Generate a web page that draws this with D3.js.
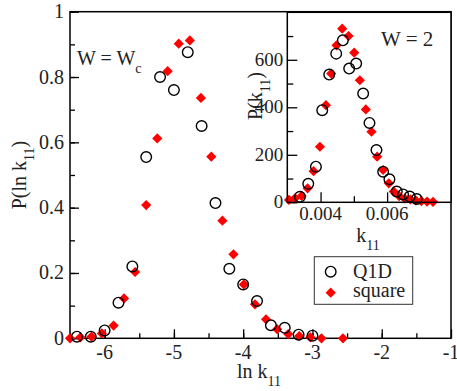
<!DOCTYPE html>
<html><head><meta charset="utf-8">
<script src="https://cdn.jsdelivr.net/npm/d3@7"></script>
<style>
html,body{margin:0;padding:0;background:#fff;}
svg{display:block;}
</style></head>
<body>
<svg id="chart" width="457" height="391"></svg>
<script>
// ---- Main panel data (W = Wc) ----
const mainQ1DX = [-6.4,-6.2,-6.0,-5.8,-5.6,-5.4,-5.2,-5.0,-4.8,-4.6,-4.4,-4.2,-4.0,-3.8,-3.6,-3.4,-3.2,-3.0];
const mainQ1DY = [0.005,0.005,0.024,0.109,0.22,0.555,0.80,0.76,0.876,0.65,0.414,0.213,0.165,0.114,0.04,0.032,0.011,0.008];
const mainSqX = [-6.5,-6.35,-6.19,-6.04,-5.87,-5.72,-5.56,-5.40,-5.24,-5.09,-4.93,-4.77,-4.61,-4.46,-4.30,-4.14,-3.99,-3.83,-3.67,-3.51,-3.35,-3.19,-3.03,-2.87,-2.56];
const mainSqY = [0.0,0.003,0.005,0.015,0.039,0.122,0.203,0.408,0.612,0.818,0.902,0.912,0.736,0.556,0.36,0.257,0.165,0.104,0.058,0.028,0.013,0.007,0.003,0.0,0.0];
const mainXTicks = [-6,-5,-4,-3,-2,-1];
const mainYTicks = [0,0.2,0.4,0.6,0.8,1];
const mainYTickLabels = ["0","0.2","0.4","0.6","0.8","1"];

// ---- Inset data (W = 2) ----
const insQ1DX = [0.00338,0.00363,0.00386,0.00405,0.00426,0.00447,0.00467,0.00486,0.00507,0.00528,0.00547,0.00568,0.00588,0.00607,0.00629,0.00648,0.00668,0.00689];
const insQ1DY = [23,78,150,388,538,626,682,563,584,458,334,220,129,97,45,33,24,14];
const insSqX = [0.00305,0.00323,0.00343,0.00361,0.00379,0.00398,0.00416,0.00432,0.00448,0.00465,0.00484,0.00501,0.00518,0.00536,0.00553,0.0057,0.00588,0.00605,0.0062,0.00636,0.00653,0.0067,0.00686,0.00703,0.0072,0.00738];
const insSqY = [10,17,27,59,131,234,409,542,661,731,700,630,514,391,297,192,136,80,45,26,16,12,8,5,3,2];
const insXTicks = [0.004,0.006];
const insXTickLabels = ["0.004","0.006"];
const insYTicks = [0,200,400,600];

const seriesNames = ["Q1D","square"];

const svg = d3.select("#chart");
const INK = "#000";
const TXT = "#222";
const FONT = "'Times New Roman'";

// scales
const x = d3.scaleLinear().domain([-6.5,-1]).range([70,451]);
const y = d3.scaleLinear().domain([0,1]).range([338.3,11.7]);
const ix = d3.scaleLinear().domain([0.003,0.00792]).range([287.3,451]);
const iy = d3.scaleLinear().domain([0,800]).range([202.3,12.3]);

function styleAxis(g){
  g.select(".domain").remove();
  g.selectAll("line").attr("stroke",INK).attr("stroke-width",1.3);
  g.selectAll("text").remove();
}
function frame(xs,ys){
  svg.append("rect")
    .attr("x",xs.range()[0]).attr("y",ys.range()[1])
    .attr("width",xs.range()[1]-xs.range()[0])
    .attr("height",ys.range()[0]-ys.range()[1])
    .attr("fill","none").attr("stroke",INK).attr("stroke-width",1.5);
}
// plain label: text with one tspan
function label(parent, xx, yy, s, size, anchor){
  const t = parent.append("text").style("font-family",FONT).attr("fill",TXT)
    .attr("font-size",size).attr("text-anchor",anchor||"start")
    .attr("transform",`translate(${xx},${yy})`);
  t.append("tspan").style("font-family",FONT).text(s);
  return t;
}
function subText(parent, xx, yy, base, sub, tail, size, rotate, anchor){
  const t = parent.append("text").style("font-family",FONT).attr("fill",TXT)
    .attr("font-size",size).attr("text-anchor",anchor||"middle");
  if(rotate) t.attr("transform",`translate(${xx},${yy}) rotate(-90)`);
  else t.attr("transform",`translate(${xx},${yy})`);
  t.append("tspan").style("font-family",FONT).text(base);
  t.append("tspan").style("font-family",FONT).attr("font-size",size*0.7).attr("dy",size*0.38).text(sub);
  if(tail) t.append("tspan").style("font-family",FONT).attr("dy",-size*0.38).text(tail);
  return t;
}

// ---------- main panel ----------
svg.append("g").attr("transform",`translate(0,${y.range()[0]})`)
  .call(d3.axisTop(x).tickValues(d3.range(-6.5,-1.01,0.5)).tickSize(5)).call(styleAxis);
svg.append("g").attr("transform",`translate(${x.range()[0]},0)`)
  .call(d3.axisRight(y).tickValues(d3.range(0,1.001,0.1)).tickSize(5)).call(styleAxis);
svg.append("g").attr("transform",`translate(0,${y.range()[0]})`)
  .call(d3.axisTop(x).tickValues(mainXTicks).tickSize(9)).call(styleAxis);
svg.append("g").attr("transform",`translate(${x.range()[0]},0)`)
  .call(d3.axisRight(y).tickValues(mainYTicks).tickSize(9)).call(styleAxis);
frame(x,y);

const gxl = svg.append("g");
mainXTicks.forEach(d=>label(gxl, x(d), 359, String(d), 20, "middle"));
const gyl = svg.append("g");
mainYTicks.forEach((d,i)=>label(gyl, x.range()[0]-6, y(d)+6.5, mainYTickLabels[i], 20, "end"));

subText(svg, 259, 378, "ln k", "11", "", 20, false);
subText(svg, 26, 175, "P(ln k", "11", ")", 20, true);
subText(svg, 77, 65, "W = W", "c", "", 20, false, "start");

// main data
svg.append("g").selectAll("path").data(mainSqX.map((v,i)=>[v,mainSqY[i]])).join("path")
  .attr("d", d3.symbol().type(d3.symbolSquare).size(52))
  .attr("transform",d=>`translate(${x(d[0])},${y(d[1])}) rotate(45)`)
  .attr("fill","#ff0000");
svg.append("g").selectAll("circle").data(mainQ1DX.map((v,i)=>[v,mainQ1DY[i]])).join("circle")
  .attr("cx",d=>x(d[0])).attr("cy",d=>y(d[1])).attr("r",5.3)
  .attr("fill","none").attr("stroke",INK).attr("stroke-width",1.4);

// legend
const lg = svg.append("g");
lg.append("rect").attr("x",314.3).attr("y",256.7).attr("width",98.4).attr("height",47.6)
  .attr("fill","#fff").attr("stroke","#333").attr("stroke-width",1);
lg.append("circle").attr("cx",330.7).attr("cy",271.7).attr("r",5.3)
  .attr("fill","none").attr("stroke",INK).attr("stroke-width",1.4);
lg.append("path").attr("d", d3.symbol().type(d3.symbolSquare).size(52))
  .attr("transform","translate(330.7,292.7) rotate(45)").attr("fill","#ff0000");
label(lg, 353, 277.5, seriesNames[0], 20);
label(lg, 353, 297, seriesNames[1], 20);

// ---------- inset ----------
svg.append("rect").attr("x",ix.range()[0]).attr("y",iy.range()[1])
  .attr("width",ix.range()[1]-ix.range()[0]).attr("height",iy.range()[0]-iy.range()[1])
  .attr("fill","#fff");
svg.append("g").attr("transform",`translate(0,${iy.range()[0]})`)
  .call(d3.axisTop(ix).tickValues([0.005,0.007]).tickSize(6)).call(styleAxis);
svg.append("g").attr("transform",`translate(0,${iy.range()[0]})`)
  .call(d3.axisTop(ix).tickValues(insXTicks).tickSize(10)).call(styleAxis);
svg.append("g").attr("transform",`translate(${ix.range()[0]},0)`)
  .call(d3.axisRight(iy).tickValues(d3.range(100,800,200)).tickSize(6)).call(styleAxis);
svg.append("g").attr("transform",`translate(${ix.range()[0]},0)`)
  .call(d3.axisRight(iy).tickValues(insYTicks).tickSize(10)).call(styleAxis);

svg.append("g").selectAll("path").data(insSqX.map((v,i)=>[v,insSqY[i]])).join("path")
  .attr("d", d3.symbol().type(d3.symbolSquare).size(52))
  .attr("transform",d=>`translate(${ix(d[0])},${iy(d[1])}) rotate(45)`)
  .attr("fill","#ff0000");
svg.append("g").selectAll("circle").data(insQ1DX.map((v,i)=>[v,insQ1DY[i]])).join("circle")
  .attr("cx",d=>ix(d[0])).attr("cy",d=>iy(d[1])).attr("r",5.3)
  .attr("fill","none").attr("stroke",INK).attr("stroke-width",1.4);
frame(ix,iy);

const gix = svg.append("g");
insXTicks.forEach((d,i)=>label(gix, ix(d), 220, insXTickLabels[i], 19, "middle"));
const giy = svg.append("g");
insYTicks.forEach(d=>label(giy, ix.range()[0]-4, iy(d)+6, String(d), 19, "end"));
subText(svg, 368, 242, "k", "11", "", 20, false);
subText(svg, 262, 96, "P(k", "11", ")", 20, true);
label(svg, 381, 46, "W = 2", 21);
</script>
</body></html>
